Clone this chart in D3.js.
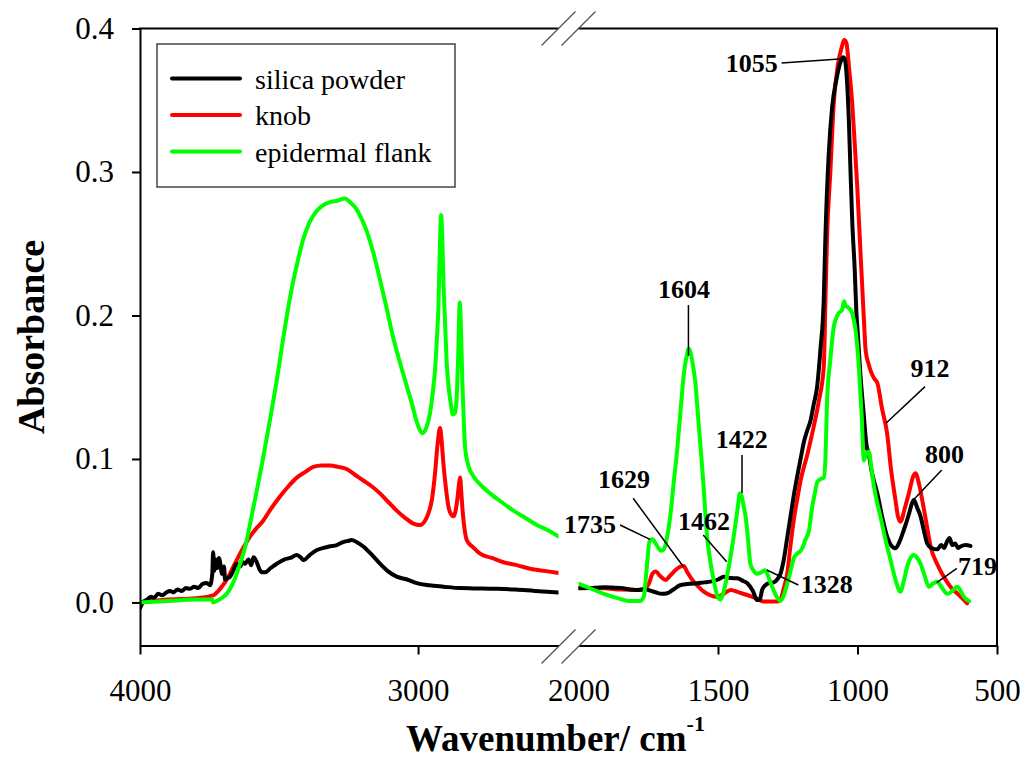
<!DOCTYPE html>
<html>
<head>
<meta charset="utf-8">
<script src="https://cdn.jsdelivr.net/npm/d3@7"></script>
<style>
  html, body { margin: 0; padding: 0; background: #fff; }
  svg { display: block; }
</style>
</head>
<body>
<svg id="chart" width="1023" height="760" font-family="'Liberation Serif', 'Times New Roman', serif"></svg>
<script>
// ---------------- DATA ----------------
const seriesNames = ["silica powder", "knob", "epidermal flank"];
const seriesColors = ["#000000", "#ff0000", "#00ff00"];

// silica powder (black)
const silicaWave = [4000,3990,3975,3960,3950,3935,3920,3905,3892,3880,3865,3850,3835,3820,3805,3790,3775,3760,3748,3740,3737,3733,3728,3722,3716,3712,3705,3698,3694,3685,3676,3665,3652,3640,3630,3622,3610,3600,3592,3580,3570,3560,3550,3530,3508,3480,3460,3436,3420,3412,3390,3364,3340,3320,3292,3270,3250,3239,3220,3197,3170,3137,3110,3077,3040,3005,2960,2909,2850,2800,2717,2650,2580,2495,
  1999,1960,1909,1850,1790,1760,1730,1700,1682,1660,1634,1600,1575,1550,1527,1500,1479,1455,1431,1410,1395,1375,1360,1350,1342,1330,1318,1300,1288,1276,1264,1252,1240,1228,1216,1204,1192,1180,1168,1157,1145,1133,1121,1115,1103,1091,1075,1062,1052,1046,1040,1031,1025,1019,1010,1004,999,990,977,968,959,950,940,929,912,894,880,864,850,834,815,805,798,786,774,762,750,735,714,700,690,680,670,667,660,650,640,631,612,595];
const silicaAbs = [-0.004,0.000,0.002,0.004,0.003,0.006,0.005,0.007,0.008,0.007,0.009,0.008,0.010,0.0095,0.011,0.010,0.013,0.0135,0.012,0.020,0.035,0.022,0.030,0.024,0.031,0.028,0.020,0.025,0.016,0.017,0.018,0.022,0.027,0.025,0.028,0.027,0.030,0.026,0.0315,0.028,0.023,0.021,0.021,0.024,0.027,0.030,0.031,0.033,0.031,0.0295,0.033,0.0365,0.038,0.039,0.040,0.042,0.043,0.0435,0.042,0.039,0.034,0.027,0.022,0.018,0.016,0.0135,0.012,0.011,0.010,0.0098,0.0095,0.009,0.008,0.007,
  0.0099,0.010,0.0106,0.010,0.0087,0.009,0.0075,0.006,0.0064,0.009,0.0122,0.013,0.0134,0.014,0.0145,0.016,0.018,0.017,0.0169,0.015,0.0134,0.008,0.0017,0.002,0.0087,0.012,0.0134,0.014,0.016,0.020,0.030,0.045,0.060,0.075,0.088,0.100,0.112,0.120,0.127,0.138,0.150,0.176,0.211,0.255,0.313,0.345,0.365,0.376,0.380,0.379,0.370,0.336,0.300,0.2665,0.232,0.202,0.1876,0.160,0.1295,0.110,0.103,0.092,0.084,0.076,0.060,0.046,0.040,0.0378,0.042,0.0505,0.062,0.069,0.0714,0.066,0.060,0.050,0.041,0.038,0.037,0.040,0.038,0.042,0.045,0.0435,0.040,0.041,0.038,0.039,0.040,0.0394];

// knob (red)
const knobWave = [4000,3900,3800,3737,3710,3688,3664,3640,3620,3604,3580,3557,3530,3496,3466,3436,3405,3377,3347,3317,3287,3257,3227,3197,3167,3137,3107,3077,3047,3017,2993,2978,2963,2950,2939,2930,2921,2915,2909,2900,2891,2880,2873,2866,2859,2853,2849,2844,2839,2832,2825,2800,2777,2735,2693,2645,2597,2545,2495,
  1999,1950,1909,1850,1790,1760,1748,1735,1724,1705,1688,1670,1652,1635,1623,1610,1592,1570,1551,1527,1503,1480,1455,1425,1395,1365,1336,1300,1288,1276,1264,1252,1240,1228,1216,1204,1180,1157,1139,1121,1115,1109,1097,1085,1070,1055,1048,1040,1030,1019,1010,1001,989,977,971,960,950,940,929,912,894,880,864,855,846,830,816,800,792,780,768,750,738,715,691,667,643,620,607];
const knobAbs = [0.000,0.002,0.003,0.005,0.010,0.016,0.025,0.034,0.041,0.046,0.052,0.057,0.065,0.074,0.081,0.087,0.091,0.0945,0.0955,0.0955,0.0945,0.093,0.089,0.085,0.081,0.076,0.070,0.064,0.059,0.055,0.054,0.056,0.062,0.072,0.090,0.110,0.1215,0.112,0.097,0.080,0.067,0.061,0.060,0.063,0.0715,0.082,0.087,0.075,0.062,0.050,0.0435,0.038,0.034,0.031,0.028,0.026,0.0235,0.022,0.0205,
  0.010,0.010,0.0099,0.009,0.0087,0.010,0.013,0.020,0.0215,0.018,0.0157,0.019,0.0226,0.025,0.0254,0.021,0.0157,0.011,0.0075,0.005,0.004,0.006,0.0087,0.007,0.0052,0.003,0.0006,0.0006,0.0006,0.002,0.010,0.020,0.040,0.058,0.072,0.085,0.103,0.1225,0.140,0.164,0.209,0.255,0.301,0.348,0.375,0.388,0.392,0.390,0.372,0.348,0.320,0.290,0.243,0.197,0.176,0.166,0.160,0.156,0.153,0.135,0.118,0.093,0.0714,0.060,0.0563,0.066,0.076,0.088,0.090,0.083,0.0714,0.052,0.039,0.027,0.018,0.011,0.0064,0.002,-0.0006];

// epidermal flank (green)
const flankWave = [4000,3900,3800,3740,3737,3715,3688,3660,3640,3620,3604,3580,3557,3530,3508,3485,3460,3435,3413,3390,3364,3340,3317,3290,3263,3245,3221,3200,3185,3160,3137,3113,3090,3065,3041,3020,3005,2990,2983,2970,2957,2945,2939,2932,2927,2922,2917,2913,2909,2903,2897,2890,2882,2875,2868,2862,2856,2850,2845,2841,2836,2831,2820,2801,2770,2741,2700,2657,2615,2573,2530,2495,
  1999,1960,1909,1860,1814,1780,1766,1755,1745,1735,1720,1705,1694,1682,1670,1658,1646,1635,1623,1612,1604,1596,1588,1581,1570,1557,1548,1539,1527,1515,1503,1491,1482,1473,1464,1455,1446,1437,1428,1422,1415,1408,1401,1392,1384,1372,1360,1345,1330,1318,1306,1290,1276,1264,1252,1240,1228,1216,1200,1186,1174,1162,1153,1144,1132,1121,1115,1109,1097,1085,1068,1055,1048,1043,1030,1019,1007,995,985,977,970,959,950,941,930,918,900,882,864,846,834,822,810,798,786,774,760,744,730,714,700,678,660,643,630,619,600];
const flankAbs = [0.000,0.001,0.002,0.002,0.000,0.002,0.006,0.016,0.027,0.040,0.055,0.078,0.101,0.130,0.155,0.184,0.213,0.236,0.253,0.265,0.273,0.277,0.279,0.280,0.2815,0.279,0.274,0.266,0.259,0.243,0.225,0.205,0.185,0.167,0.151,0.137,0.126,0.119,0.118,0.122,0.132,0.150,0.162,0.185,0.205,0.245,0.270,0.255,0.225,0.195,0.167,0.150,0.138,0.131,0.132,0.140,0.170,0.209,0.185,0.155,0.128,0.108,0.096,0.088,0.081,0.076,0.070,0.064,0.059,0.054,0.050,0.046,
  0.013,0.010,0.006,0.003,0.001,0.001,0.004,0.025,0.043,0.044,0.040,0.036,0.037,0.046,0.062,0.085,0.107,0.132,0.158,0.172,0.177,0.172,0.163,0.153,0.126,0.095,0.070,0.046,0.028,0.015,0.005,0.002,0.006,0.013,0.022,0.032,0.043,0.055,0.068,0.076,0.074,0.067,0.060,0.043,0.027,0.022,0.020,0.021,0.0225,0.017,0.011,0.004,0.001,0.005,0.013,0.022,0.031,0.034,0.037,0.044,0.050,0.067,0.076,0.084,0.086,0.087,0.100,0.141,0.170,0.192,0.2015,0.204,0.210,0.207,0.205,0.2015,0.190,0.164,0.130,0.099,0.103,0.105,0.093,0.081,0.070,0.060,0.044,0.030,0.016,0.0075,0.015,0.025,0.031,0.033,0.031,0.027,0.019,0.011,0.013,0.0145,0.011,0.006,0.008,0.011,0.008,0.004,0.001];

const yTicks = [0.0, 0.1, 0.2, 0.3, 0.4];
const xTicksLeft = [4000, 3000];
const xTicksRight = [2000, 1500, 1000, 500];

// peak annotations: label position (lw, lv), leader line from (w1,v1) to (w2,v2)
const annLabels = ["1604", "1422", "1629", "1735", "1462", "1328", "1055", "912", "800", "719"];
const annLabelW = [1622, 1415, 1837, 1959, 1550, 1110, 1379, 740, 688, 570];
const annLabelV = [0.2122, 0.1074, 0.0796, 0.0482, 0.0505, 0.0064, 0.3695, 0.1573, 0.0970, 0.0191];
const annLineW1 = [1606, 1414, 1804, 1851, 1553, 1212, 1272, 758, 698, 644];
const annLineV1 = [0.2073, 0.1028, 0.0726, 0.0540, 0.0470, 0.0122, 0.3760, 0.1504, 0.0923, 0.0238];
const annLineW2 = [1606, 1414, 1624, 1744, 1469, 1325, 1052, 898, 800, 716];
const annLineV2 = [0.1720, 0.0763, 0.0249, 0.0440, 0.0284, 0.0226, 0.3790, 0.1249, 0.0714, 0.0138];

// ---------------- CHART ----------------
const FONT = "'Liberation Serif', 'Times New Roman', serif";
const svg = d3.select("#chart");
const plotTop = 28.5, plotBottom = 645.5;
const xL = d3.scaleLinear().domain([4000, 2495]).range([140, 558.5]);
const xR = d3.scaleLinear().domain([2000, 500]).range([578.5, 997]);
const y = d3.scaleLinear().domain([-0.03, 0.4]).range([plotBottom, plotTop]);

const defs = svg.append("defs");
defs.append("clipPath").attr("id", "clipL").append("rect")
  .attr("x", xL.range()[0]).attr("y", plotTop).attr("width", xL.range()[1] - xL.range()[0]).attr("height", plotBottom - plotTop);
defs.append("clipPath").attr("id", "clipR").append("rect")
  .attr("x", xR.range()[0]).attr("y", plotTop).attr("width", xR.range()[1] - xR.range()[0]).attr("height", plotBottom - plotTop);

const series = [
  {name: seriesNames[0], color: seriesColors[0], w: silicaWave, a: silicaAbs},
  {name: seriesNames[1], color: seriesColors[1], w: knobWave, a: knobAbs},
  {name: seriesNames[2], color: seriesColors[2], w: flankWave, a: flankAbs}
];
const drawOrder = [1, 0, 2];

function pts(s, left) {
  const out = [];
  s.w.forEach((w, i) => {
    if (left ? w > 2200 : w <= 2000) out.push([w, s.a[i]]);
  });
  return out;
}
const lineL = d3.line().x(d => xL(d[0])).y(d => y(d[1])).curve(d3.curveMonotoneX);
const lineR = d3.line().x(d => xR(d[0])).y(d => y(d[1])).curve(d3.curveMonotoneX);

const gL = svg.append("g").attr("clip-path", "url(#clipL)");
const gR = svg.append("g").attr("clip-path", "url(#clipR)");
drawOrder.forEach(k => {
  const s = series[k];
  gL.append("path").attr("d", lineL(pts(s, true)))
    .attr("fill", "none").attr("stroke", s.color).attr("stroke-width", 4)
    .attr("stroke-linejoin", "round").attr("stroke-linecap", "round");
  gR.append("path").attr("d", lineR(pts(s, false)))
    .attr("fill", "none").attr("stroke", s.color).attr("stroke-width", 4)
    .attr("stroke-linejoin", "round").attr("stroke-linecap", "round");
});

// axes
function styleAxis(g) {
  g.attr("font-family", FONT).attr("font-size", 31);
  g.selectAll(".domain").attr("stroke", "#000").attr("stroke-width", 2);
  g.selectAll(".tick line").attr("stroke", "#000").attr("stroke-width", 2);
  g.selectAll(".tick text").attr("fill", "#000").attr("font-family", FONT).attr("font-size", 31);
}
const yAxis = svg.append("g").attr("transform", "translate(140,0)")
  .call(d3.axisLeft(y).tickValues(yTicks).tickFormat(d3.format(".1f")).tickSize(8).tickSizeOuter(0).tickPadding(18));
styleAxis(yAxis);

const xAxisL = svg.append("g").attr("transform", `translate(0,${plotBottom})`)
  .call(d3.axisBottom(xL).tickValues(xTicksLeft).tickFormat(d3.format("d")).tickSize(9).tickSizeOuter(0).tickPadding(24));
styleAxis(xAxisL);
const xAxisR = svg.append("g").attr("transform", `translate(0,${plotBottom})`)
  .call(d3.axisBottom(xR).tickValues(xTicksRight).tickFormat(d3.format("d")).tickSize(9).tickSizeOuter(0).tickPadding(24));
styleAxis(xAxisR);
xAxisR.selectAll(".tick").filter(d => d === 2000).select("line").remove();

// frame: top and right
const frame = svg.append("g").attr("stroke", "#000").attr("stroke-width", 2).attr("fill", "none");
frame.append("line").attr("x1", xL.range()[0] - 1).attr("x2", xL.range()[1]).attr("y1", plotTop).attr("y2", plotTop);
frame.append("line").attr("x1", xR.range()[0]).attr("x2", xR.range()[1] + 1).attr("y1", plotTop).attr("y2", plotTop);
frame.append("line").attr("x1", xR.range()[1]).attr("x2", xR.range()[1]).attr("y1", plotTop).attr("y2", plotBottom);

// axis break marks
const brk = svg.append("g").attr("stroke", "#555").attr("stroke-width", 1.2);
[plotTop, plotBottom + 1].forEach(yy => {
  [xL.range()[1], xR.range()[0]].forEach(xx => {
    brk.append("line").attr("x1", xx - 17).attr("y1", yy + 17).attr("x2", xx + 17).attr("y2", yy - 17);
  });
});

// axis titles
svg.append("text").attr("transform", "translate(44,337) rotate(-90)")
  .attr("text-anchor", "middle").attr("font-family", FONT).attr("font-size", 38).attr("font-weight", "bold")
  .text("Absorbance");
const xt = svg.append("text").attr("x", 406).attr("y", 751)
  .attr("font-family", FONT).attr("font-size", 37).attr("font-weight", "bold");
xt.append("tspan").text("Wavenumber/ cm");
xt.append("tspan").attr("dy", -20).attr("font-size", 22).text("-1");

// legend
const leg = svg.append("g");
leg.append("rect").attr("x", 157).attr("y", 44).attr("width", 298).attr("height", 143)
  .attr("fill", "#fff").attr("stroke", "#444").attr("stroke-width", 1.5);
series.forEach((s, i) => {
  const yy = 78.5 + i * 36.5;
  leg.append("line").attr("x1", 172).attr("x2", 240).attr("y1", yy).attr("y2", yy)
    .attr("stroke", s.color).attr("stroke-width", 4).attr("stroke-linecap", "round");
  leg.append("text").attr("x", 255).attr("y", yy + 10)
    .attr("font-family", FONT).attr("font-size", 28).text(s.name);
});

// annotations
const ann = svg.append("g");
annLabels.forEach((lab, i) => {
  ann.append("line")
    .attr("x1", xR(annLineW1[i])).attr("y1", y(annLineV1[i]))
    .attr("x2", xR(annLineW2[i])).attr("y2", y(annLineV2[i]))
    .attr("stroke", "#000").attr("stroke-width", 1.5);
  ann.append("text").attr("x", xR(annLabelW[i])).attr("y", y(annLabelV[i]))
    .attr("text-anchor", "middle").attr("font-family", FONT).attr("font-size", 26).attr("font-weight", "bold")
    .text(lab);
});
</script>
</body>
</html>
